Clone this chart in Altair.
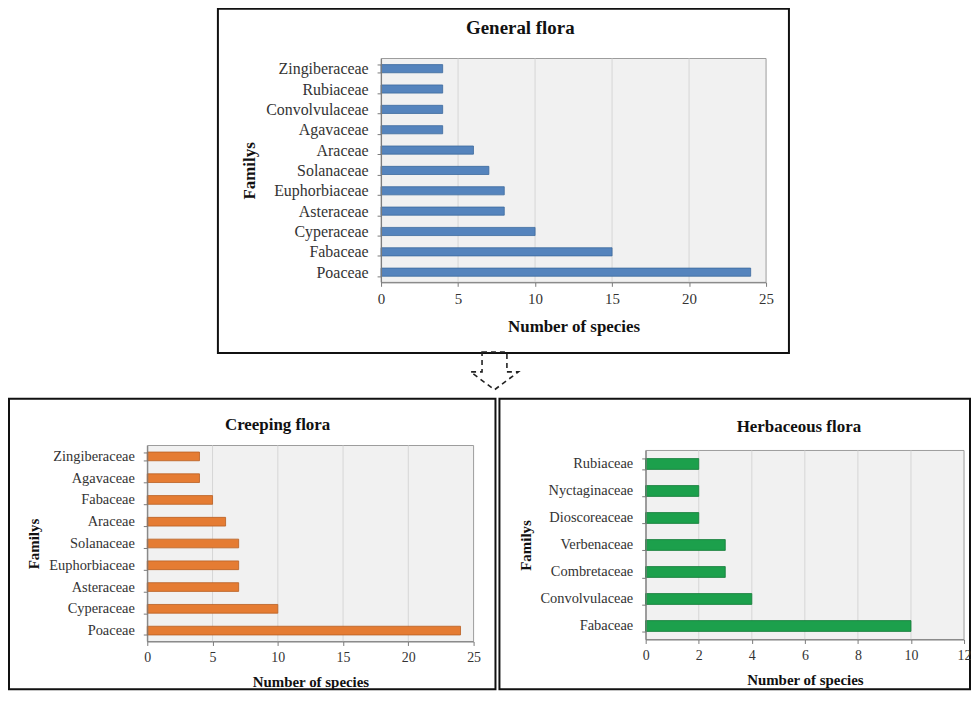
import altair as alt
import pandas as pd

FONT = "Liberation Serif"

# ---- data ----
gen_families = ["Zingiberaceae", "Rubiaceae", "Convolvulaceae", "Agavaceae", "Araceae",
                "Solanaceae", "Euphorbiaceae", "Asteraceae", "Cyperaceae", "Fabaceae", "Poaceae"]
gen_species = [4, 4, 4, 4, 6, 7, 8, 8, 10, 15, 24]

creep_families = ["Zingiberaceae", "Agavaceae", "Fabaceae", "Araceae", "Solanaceae",
                  "Euphorbiaceae", "Asteraceae", "Cyperaceae", "Poaceae"]
creep_species = [4, 4, 5, 6, 7, 7, 7, 10, 24]

herb_families = ["Rubiaceae", "Nyctaginaceae", "Dioscoreaceae", "Verbenaceae",
                 "Combretaceae", "Convolvulaceae", "Fabaceae"]
herb_species = [2, 2, 2, 3, 3, 4, 10]

gen_ticks = [0, 5, 10, 15, 20, 25]
creep_ticks = [0, 5, 10, 15, 20, 25]
herb_ticks = [0, 2, 4, 6, 8, 10, 12]

# dashed outline arrow between the top chart and the bottom row (symbol shape, -1..1 box)
ARROW_SHAPE = "M -0.5 -0.76 L 0.5 -0.76 L 0.5 0.04 L 0.96 0.04 L 0 0.76 L -0.96 0.04 L -0.5 0.04 Z"


def panel(families, species, ticks, color, edge, title, W, H, bx0,
          px0, px1, py0, py1, title_cx, title_cy, ytitle_x, xtitle_dy,
          label_size, tick_size, axis_title_size, title_size, extra=None):
    xmax = ticks[-1]
    df = pd.DataFrame({"Family": families, "Species": species})
    xscale = alt.Scale(domain=[0, xmax], range=[px0, px1], nice=False)
    yscale = alt.Scale(domain=families, range=[py0, py1], paddingInner=0.6, paddingOuter=0.3)
    xaxis = alt.Axis(
        title="Number of species", values=ticks, zindex=1, labelFlush=False,
        offset=-(H - py1), grid=False,
        domainColor="#7a7a7a", tickColor="#7a7a7a", tickSize=4, labelPadding=5,
        labelFont=FONT, labelFontSize=tick_size, labelColor="#333",
        titleFont=FONT, titleFontSize=axis_title_size, titleFontWeight="bold",
        titleColor="#111", titleY=xtitle_dy, titleBaseline="middle",
    )
    yaxis = alt.Axis(
        title="Familys", offset=-px0, tickBand="extent", tickSize=4, labelPadding=9,
        zindex=1, domainColor="#7a7a7a", tickColor="#7a7a7a",
        labelFont=FONT, labelFontSize=label_size, labelColor="#333",
        titleFont=FONT, titleFontSize=axis_title_size, titleFontWeight="bold",
        titleColor="#111", titleX=ytitle_x - px0, titleY=(py0 + py1) / 2,
        titleBaseline="middle",
    )
    one = pd.DataFrame({"title": [title]})
    box = alt.Chart(one).mark_rect(fill="white", stroke="#111", strokeWidth=2).encode(
        x=alt.value(bx0), x2=alt.value(W), y=alt.value(0), y2=alt.value(H)
    )
    frame = alt.Chart(one).mark_rect(
        fill="#f1f1f1", stroke="#9c9c9c", strokeWidth=1
    ).encode(
        x=alt.X(datum=0, scale=xscale, axis=xaxis),
        x2=alt.X2(datum=xmax),
        y=alt.value(py0), y2=alt.value(py1),
    )
    grid = alt.Chart(pd.DataFrame({"v": ticks[1:-1]})).mark_rule(
        color="#d6d6d6", strokeWidth=1
    ).encode(
        x=alt.X("v:Q", scale=xscale, axis=xaxis),
        y=alt.value(py0), y2=alt.value(py1),
    )
    bars = alt.Chart(df).mark_bar(color=color, stroke=edge, strokeWidth=0.8).encode(
        x=alt.X("Species:Q", scale=xscale, axis=xaxis),
        y=alt.Y("Family:N", scale=yscale, axis=yaxis),
    )
    head = alt.Chart(one).mark_text(
        font=FONT, fontSize=title_size, fontWeight="bold", color="#111",
        align="center", baseline="middle"
    ).encode(x=alt.value(title_cx), y=alt.value(title_cy), text="title:N")
    layers = [box, frame, grid, bars, head]
    if extra is not None:
        layers.append(extra)
    return alt.layer(*layers).properties(
        width=W, height=H,
        view=alt.ViewBackground(strokeOpacity=0, fill="white"),
    )


TX = 210  # left edge of the top box inside its (wider) view

arrow = alt.Chart(pd.DataFrame({"a": [0]})).mark_point(
    shape=ARROW_SHAPE, size=2500, filled=False, stroke="#222", strokeWidth=1.6,
    strokeDash=[5, 4], opacity=1
).encode(x=alt.value(TX + 278), y=alt.value(364))

top = panel(gen_families, gen_species, gen_ticks, "#5584bd", "#3d6a9e", "General  flora",
            TX + 574, 346, TX, TX + 164, TX + 551, 50, 275, TX + 304, 19, TX + 32, 44,
            16, 15, 17, 19, extra=arrow)

creep = panel(creep_families, creep_species, creep_ticks, "#e57c33", "#b85f22", "Creeping flora",
              489, 292, 0, 139, 467, 47, 244, 270, 26, 25, 40, 14.5, 14, 15, 17)

herb = panel(herb_families, herb_species, herb_ticks, "#1ca04c", "#137a38", "Herbaceous flora",
             473, 292, 0, 147, 467, 52, 242, 301, 28, 26, 40, 14.5, 14, 15, 17)

bottom_row = alt.hconcat(creep, herb, spacing=4, bounds="flush")

chart = alt.vconcat(top, bottom_row, spacing=46, bounds="flush").properties(
    padding={"top": -9, "left": 0, "right": 0, "bottom": 0}
).configure(background="white")

chart.save("out.html", embed_options={"renderer": "svg", "actions": False})
